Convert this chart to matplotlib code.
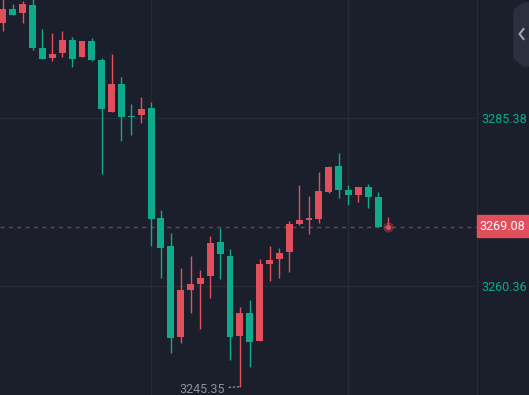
import numpy as np
import matplotlib.pyplot as plt
from matplotlib.patches import Rectangle, Polygon

# candle data (oldest -> newest)
opens = [3299.52, 3301.61, 3301.01, 3302.21, 3295.80, 3294.31, 3295.06, 3296.99, 3294.46, 3296.84,
         3294.01, 3286.27, 3290.44, 3285.60, 3285.82, 3286.87, 3270.48, 3266.31, 3252.76, 3259.76,
         3260.65, 3261.85, 3266.91, 3264.82, 3252.91, 3256.34, 3252.16, 3263.63, 3264.38, 3265.42,
         3269.59, 3270.19, 3270.33, 3274.36, 3278.23, 3274.65, 3273.91, 3275.10, 3273.61, 3269.00]
highs = [3303.50, 3302.35, 3302.80, 3303.20, 3298.63, 3298.04, 3298.33, 3297.44, 3296.84, 3297.29,
         3294.31, 3294.91, 3291.48, 3287.46, 3288.50, 3287.76, 3271.68, 3268.25, 3263.04, 3264.82,
         3262.74, 3267.80, 3268.99, 3265.87, 3257.23, 3258.27, 3264.38, 3266.31, 3266.02, 3270.04,
         3275.40, 3273.76, 3277.34, 3278.23, 3280.16, 3275.40, 3275.10, 3275.55, 3274.36, 3270.63]
lows = [3298.38, 3300.72, 3299.52, 3295.50, 3294.16, 3293.87, 3294.46, 3292.97, 3294.46, 3293.87,
        3277.04, 3286.27, 3281.95, 3282.84, 3284.63, 3266.31, 3261.55, 3250.38, 3251.87, 3256.34,
        3253.95, 3258.57, 3261.40, 3249.34, 3245.35, 3248.29, 3252.16, 3261.10, 3261.55, 3262.44,
        3269.44, 3268.10, 3269.74, 3274.21, 3273.46, 3272.42, 3272.87, 3271.97, 3269.08, 3269.00]
closes = [3301.61, 3300.72, 3302.35, 3295.80, 3294.16, 3294.91, 3296.99, 3294.16, 3296.84, 3294.01,
          3286.72, 3290.44, 3285.53, 3285.45, 3286.72, 3270.33, 3266.02, 3252.61, 3259.76, 3260.65,
          3261.55, 3266.76, 3265.12, 3252.76, 3256.34, 3252.02, 3263.63, 3264.23, 3265.27, 3269.59,
          3270.19, 3270.33, 3274.50, 3278.08, 3274.65, 3273.91, 3275.10, 3273.61, 3269.08, 3269.08]

axis_prices = [3260.36, 3285.38]
last_price = 3269.08

W, H = 529, 395
bg = '#1b1f2b'
gridc = '#252a37'
red = '#e14e5c'
green = '#0fa98b'

plt.rcParams['font.family'] = ['Roboto', 'DejaVu Sans']

def fx(px):
    return px / W

def fy(py):
    return 1 - py / H

opens = np.array(opens)
highs = np.array(highs)
lows = np.array(lows)
closes = np.array(closes)

fig = plt.figure(figsize=(W / 100, H / 100), dpi=100)
fig.patch.set_facecolor(bg)
ax = fig.add_axes([0, 0, fx(477), 1])
ax.set_facecolor(bg)

x = np.arange(len(opens))
cols = np.where(closes >= opens, red, green)

# wicks and bodies (last candle is drawn as a dot)
ax.vlines(x, lows, highs, color=cols, lw=1, zorder=3)
n = len(opens) - 1
body = np.maximum(np.abs(closes - opens), 0.22)
ax.bar(x[:n], body[:n], bottom=np.minimum(opens, closes)[:n], width=0.7,
       color=cols[:n], lw=0, zorder=3)
ax.scatter([x[n]], [closes[n]], s=55, color=red, alpha=0.35, lw=0, zorder=4)
ax.scatter([x[n]], [closes[n]], s=14, color=red, lw=0, zorder=5)

# current price line
ax.axhline(last_price, color='#6e4452', ls=(0, (3, 3)), lw=1, zorder=2)

ax.set_xlim(-0.304, 48.02)
ax.set_ylim(3244.12, 3302.95)

ax.set_xticks([15, 35])
ax.set_xticklabels(['', ''])
ax.set_yticks(axis_prices)
ax.set_yticklabels(['%.2f' % p for p in axis_prices])
ax.yaxis.tick_right()
ax.tick_params(axis='both', length=0)
ax.tick_params(axis='y', pad=3, labelcolor=green, labelsize=9)
ax.grid(color=gridc, lw=1, zorder=0)
for s in ['top', 'bottom', 'left']:
    ax.spines[s].set_visible(False)
ax.spines['right'].set_color('#262c3a')

# lowest price marker
i_low = int(np.argmin(lows))
ax.annotate('%.2f' % lows[i_low], xy=(i_low - 0.1, lows[i_low]), xytext=(-10, -2),
            textcoords='offset points', ha='right', va='center', fontsize=9,
            color='#8a919e',
            arrowprops=dict(arrowstyle='-', ls=(0, (1, 2)), color='#8a919e',
                            shrinkA=1, shrinkB=0, lw=1))

# last price label box
fig.patches.append(Rectangle((fx(477), fy(237)), fx(52), 22 / H, transform=fig.transFigure,
                             color=red, zorder=5))
fig.text(fx(502.5), fy(227), '%.2f' % last_price, color='white', fontsize=9,
         ha='center', va='center', zorder=6)

# collapse tab at the top right
tab = [(514, 10), (523, 3), (529, 3), (529, 66), (523, 66), (514, 58)]
fig.patches.append(Polygon([(fx(a), fy(b)) for a, b in tab], closed=True,
                           transform=fig.transFigure, color='#2a303d', zorder=5))
fig.lines.append(plt.Line2D([fx(523.5), fx(519.5), fx(523.5)], [fy(29), fy(34), fy(39)],
                            transform=fig.transFigure, color='#a0a6b2', lw=1.5, zorder=6))

fig.savefig('out.png', dpi=100, facecolor=bg)
